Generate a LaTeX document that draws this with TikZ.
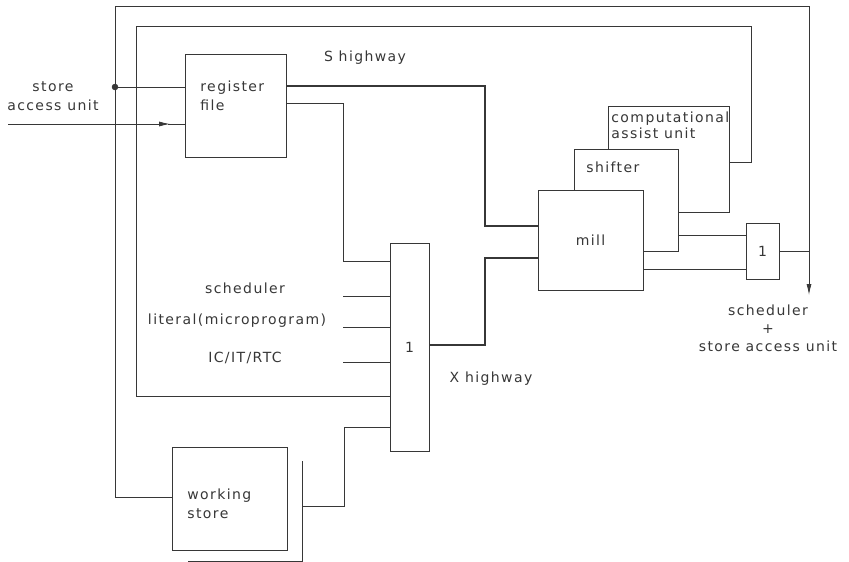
\documentclass[tikz,border=0pt]{standalone}
\usepackage{fontspec}
\setmainfont{DejaVu Sans}[LetterSpace=10]
\usetikzlibrary{positioning, arrows.meta}
\definecolor{ink_color}{RGB}{55, 55, 55}

\begin{document}
\begin{tikzpicture}[x=1pt, y=-1pt, font=\fontsize{14}{19}\selectfont,
    line width=0.8pt, draw=ink_color, text=ink_color,
    blk/.style={draw, fill=white, inner sep=0pt},
    hw/.style={line width=1.6pt},
    lbl/.style={inner sep=0pt},
    tip/.style={-{Latex[length=11pt, width=5pt]}}]

      \useasboundingbox (0,0) rectangle (849,562);

      % 1. BLOQUES (cau y shifter detras del mill)
      \node[blk, minimum width=101pt, minimum height=103pt] (reg) at (235.5,105.5) {};
      \node[blk, minimum width=39pt, minimum height=208pt] (mux) at (409.5,347) {1};
      \node[blk, minimum width=121pt, minimum height=106pt] (cau) at (668.5,159) {};
      \node[blk, minimum width=104pt, minimum height=102pt] (shifter) at (626,200) {};
      \node[blk, minimum width=105pt, minimum height=100pt] (mill) at (590.5,240) {mill};
      \node[blk, minimum width=33pt, minimum height=56pt] (gate) at (762.5,251) {1};
      \node[blk, minimum width=115pt, minimum height=103pt] (ws) at (229.5,498.5) {};

      % escuadra del working store
      \draw (302,461) -- (302,561) -- (188,561);
      \coordinate (wsout) at (302,506);

      % 2. TEXTOS
      \node[lbl, align=center] (sautxt) at (53,96) {store\\access unit};
      \node[lbl] (stxt) at (365,58) {S highway};
      \node[lbl, align=left, anchor=west] (regtxt) at (200,96) {register\\file};
      \node[lbl] (schtxt) at (245,288) {scheduler};
      \node[lbl] (littxt) at (237,321) {literal(microprogram)};
      \node[lbl] (ictxt) at (245,358) {IC/IT/RTC};
      \node[lbl] (xtxt) at (491,379) {X highway};
      \node[lbl, align=left, anchor=west] (wstxt) at (187,504) {working\\store};
      \node[lbl, align=left, anchor=west, font=\fontsize{14}{16}\selectfont] (cautxt) at (611,125) {computational\\assist unit};
      \node[lbl, anchor=west] (shtxt) at (586,167) {shifter};
      \node[lbl, align=center, font=\fontsize{14}{18}\selectfont] (outtxt) at (768,328) {scheduler\\+\\store access unit};

      % 3. CONEXIONES
      % S highway y X highway (trazo grueso)
      \draw[hw] (reg.east |- 0,86) -| (485,226) -- (mill.west |- 0,226);
      \draw[hw] (mux.east |- 0,345) -| (485,258) -- (mill.west |- 0,258);

      % register file -> mux
      \draw (reg.east |- 0,103) -| (343,261) -- (mux.west |- 0,261);

      % entradas del mux
      \foreach \y in {296,327,362}
        \draw (343,\y) -- (mux.west |- 0,\y);

      % lazo interior desde el cau
      \draw (cau.east |- 0,162) -| (751,26) -| (136,396) -- (mux.west |- 0,396);

      % lazo exterior
      \draw[tip] (ws.west |- 0,497) -| (115,6) -| (809,295);
      \draw (reg.west |- 0,87) -- (115,87);
      \filldraw[ink_color] (115,87) circle (2.8pt);

      % entrada store access unit
      \coordinate (sau) at (8,124);
      \draw[tip] (sau) -- (170,124);
      \draw (168,124) -- (reg.west |- 0,124);

      % working store -> mux
      \draw (wsout) -| (344,427) -- (mux.west |- 0,427);

      % hacia la puerta 1
      \draw (shifter.east |- 0,235) -- (gate.west |- 0,235);
      \draw (mill.east |- 0,269) -- (gate.west |- 0,269);
      \draw (gate.east) -- (809,251);

    \end{tikzpicture}
\end{document}
